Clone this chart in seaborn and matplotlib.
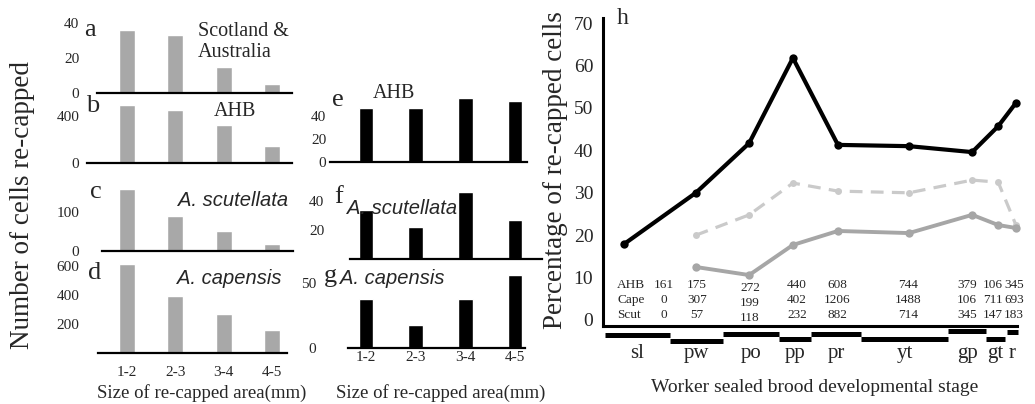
import numpy as np
import matplotlib
matplotlib.use("Agg")
import matplotlib.pyplot as plt
import seaborn as sns

# ---------------- data ----------------
size_labels = ["1-2", "2-3", "3-4", "4-5"]
recap_scot_aus = [36, 33, 15, 5]
recap_ahb = [492, 450, 320, 145]
recap_scut = [160, 90, 51, 18]
recap_cape = [615, 390, 270, 160]
recap_ahb_e = [47, 47, 56, 53]
recap_scut_f = [34, 22, 46, 27]
recap_cape_g = [38, 18, 38, 56]

stages = ["sl", "pw", "po", "pp", "pr", "yt", "gp", "gt", "r"]
stage_start = [0, 15.7, 28.6, 42.1, 49.9, 62.0, 83.1, 92.3, 97.3]
stage_end = [15.7, 28.6, 42.1, 49.9, 62.0, 83.1, 92.3, 96.9, 100]
stage_sample = [4.6, 22.0, 34.9, 45.5, 56.4, 73.6, 88.9, 95.2, 99.5]
pct_ahb = [17.9, 30.0, 41.7, 61.8, 41.3, 41.0, 39.6, 45.7, 51.2]
pct_cape = [np.nan, 20.0, 24.8, 32.3, 30.4, 30.0, 33.0, 32.5, 22.4]
pct_scut = [np.nan, 12.5, 10.6, 17.7, 21.0, 20.5, 24.8, 22.4, 21.7]
n_ahb = [161, 175, 272, 440, 608, 744, 379, 106, 345]
n_cape = [0, 307, 199, 402, 1206, 1488, 106, 711, 693]
n_scut = [0, 57, 118, 232, 882, 714, 345, 147, 183]

# ---------------- layout ----------------
W, H = 1035, 404
sns.set_theme(style="white")
plt.rcParams["font.family"] = ["Liberation Serif", "DejaVu Serif"]
plt.rcParams["axes.edgecolor"] = "black"

fig = plt.figure(figsize=(W / 100, H / 100), dpi=100)
ITAL = dict(family="Liberation Sans", style="italic")


def fx(x):
    return x / W


def fy(y):
    return 1 - y / H


def add_ax(L, R, top, base):
    return fig.add_axes([L / W, 1 - base / H, (R - L) / W, (base - top) / H])


def bar_panel(vals, color, L, R, top, base, ppu, c0, sp, sx0, sx1, width, yticks,
              show_x=False, xpad=0):
    ax = add_ax(L, R, top, base)
    sns.barplot(x=size_labels, y=vals, order=size_labels, color=color,
                width=width, saturation=1, ax=ax)
    ax.set_xlim(-(c0 - L) / sp, (R - c0) / sp)
    ax.set_ylim(0, (base - top) / ppu)
    for s in ["top", "right", "left"]:
        ax.spines[s].set_visible(False)
    ax.spines["bottom"].set_bounds((sx0 - c0) / sp, (sx1 - c0) / sp)
    ax.spines["bottom"].set_linewidth(1.6)
    ax.set_yticks(yticks)
    ax.tick_params(axis="y", length=0, pad=2, labelsize=11)
    ax.set_xlabel("")
    ax.set_ylabel("")
    if show_x:
        ax.tick_params(axis="x", length=0, pad=xpad, labelsize=11)
    else:
        ax.set_xticks([])
    ax.patch.set_visible(False)
    return ax


GREY_BAR = "#a8a8a8"
# left column
bar_panel(recap_scot_aus, GREY_BAR, 82, 300, 18, 93, 1.75, 127, 48.4, 97, 292, 0.33, [0, 20, 40])
bar_panel(recap_ahb, GREY_BAR, 82, 300, 100, 163, 0.1175, 127, 48.4, 87, 292, 0.33, [0, 400])
bar_panel(recap_scut, GREY_BAR, 82, 300, 184, 251, 0.39, 127, 48.4, 102, 293, 0.33, [0, 100])
bar_panel(recap_cape, GREY_BAR, 82, 300, 258, 353, 0.145, 127, 48.4, 98, 287, 0.33, [200, 400, 600],
          show_x=True, xpad=9.5)
# middle column
bar_panel(recap_ahb_e, "black", 329, 545, 92, 162, 1.15, 366, 49.7, 330, 527, 0.29, [0, 20, 40])
bar_panel(recap_scut_f, "black", 327, 545, 185, 259, 1.45, 366, 49.7, 350, 542, 0.29, [20, 40])
bar_panel(recap_cape_g, "black", 319, 545, 266, 348, 1.3, 366, 49.7, 348, 525, 0.29, [0, 50],
          show_x=True, xpad=2.5)

# ---------------- panel h ----------------
PX0, PXS = 605, 4.13      # x pixel of t=0, pixels per unit
Y0, PYS = 320, 4.24       # y pixel of 0 %, pixels per unit


def t_of(px):
    return (px - PX0) / PXS


def v_of(py):
    return (Y0 - py) / PYS


axh = add_ax(603, 1022, 18, 326)
axh.set_xlim(t_of(603), t_of(1022))
axh.set_ylim(v_of(326), v_of(18))
axh.patch.set_visible(False)
for s in ["top", "right"]:
    axh.spines[s].set_visible(False)
axh.spines["left"].set_linewidth(2.2)
axh.spines["bottom"].set_linewidth(2.2)
axh.spines["bottom"].set_bounds(t_of(603), t_of(1017))
axh.set_yticks(range(0, 80, 10))
axh.set_xticks([])
axh.tick_params(axis="y", length=0, pad=7, labelsize=14)

sns.lineplot(x=stage_sample, y=pct_cape, color="#cacaca", linewidth=2.3, marker="o",
             markersize=5, markeredgewidth=0, sort=False, estimator=None, ax=axh)
axh.lines[-1].set_dashes([4, 2.6])
sns.lineplot(x=stage_sample, y=pct_scut, color="#a6a6a6", linewidth=2.8, marker="o",
             markersize=6, markeredgewidth=0, sort=False, estimator=None, ax=axh)
sns.lineplot(x=stage_sample, y=pct_ahb, color="black", linewidth=3.0, marker="o",
             markersize=6, markeredgewidth=0, sort=False, estimator=None, ax=axh)
axh.set_xlabel("")
axh.set_ylabel("")

# developmental stage bars below the axis
stage_level_px = [335, 341, 334, 339, 334, 339, 331, 339, 332]
stage_y = [v_of(p) for p in stage_level_px]
axh.hlines(stage_y, stage_start, stage_end, color="black", linewidth=3.6, clip_on=False)
for name, a, b in zip(stages, stage_start, stage_end):
    axh.text((a + b) / 2, v_of(344), name, ha="center", va="top", fontsize=15,
             clip_on=False)

# sample-size table
table_col_px = [664, 697, 750, 797, 837, 908, 967, 993, 1014]
table_shift_px = [0, 0, 3, 0, 0, 0, 0, 0, 0]
rows = [("AHB", n_ahb, 285), ("Cape", n_cape, 300), ("Scut", n_scut, 315)]
for lab, vals, py in rows:
    axh.text(t_of(617), v_of(py), lab, ha="left", va="center", fontsize=9.5)
    for cx, sh, v in zip(table_col_px, table_shift_px, vals):
        axh.text(t_of(cx), v_of(py + sh), str(v), ha="center", va="center", fontsize=9.5)

# ---------------- text ----------------
def ftext(x, y, s, **kw):
    fig.text(fx(x), fy(y), s, **kw)


ftext(23, 205, "Number of cells re-capped", rotation=90, ha="center", va="center", fontsize=19.5)
ftext(555, 170, "Percentage of re-capped cells", rotation=90, ha="center", va="center", fontsize=19.5)
ftext(202, 393, "Size of re-capped area(mm)", ha="center", va="center", fontsize=13.5)
ftext(441, 393, "Size of re-capped area(mm)", ha="center", va="center", fontsize=13.5)
ftext(815, 387, "Worker sealed brood developmental stage", ha="center", va="center", fontsize=14)

ftext(198, 42, "Scotland &\nAustralia", ha="left", va="center", fontsize=14.5, linespacing=1.15)
ftext(235, 112, "AHB", ha="center", va="center", fontsize=14.5)
ftext(178, 201, "A. scutellata", ha="left", va="center", fontsize=14.5, **ITAL)
ftext(177, 279, "A. capensis", ha="left", va="center", fontsize=14.5, **ITAL)
ftext(373, 93, "AHB", ha="left", va="center", fontsize=14.5)
ftext(347, 208, "A. scutellata", ha="left", va="center", fontsize=14.5, **ITAL)
ftext(340, 279, "A. capensis", ha="left", va="center", fontsize=14.5, **ITAL)

for letter, x, y in [("a", 90, 30), ("b", 93, 106), ("c", 96, 192), ("d", 95, 273),
                     ("e", 338, 100), ("f", 339, 197), ("g", 330, 276), ("h", 623, 18)]:
    ftext(x, y, letter, ha="center", va="center", fontsize=19 if letter != "h" else 17)

fig.savefig("out.png", dpi=100)
